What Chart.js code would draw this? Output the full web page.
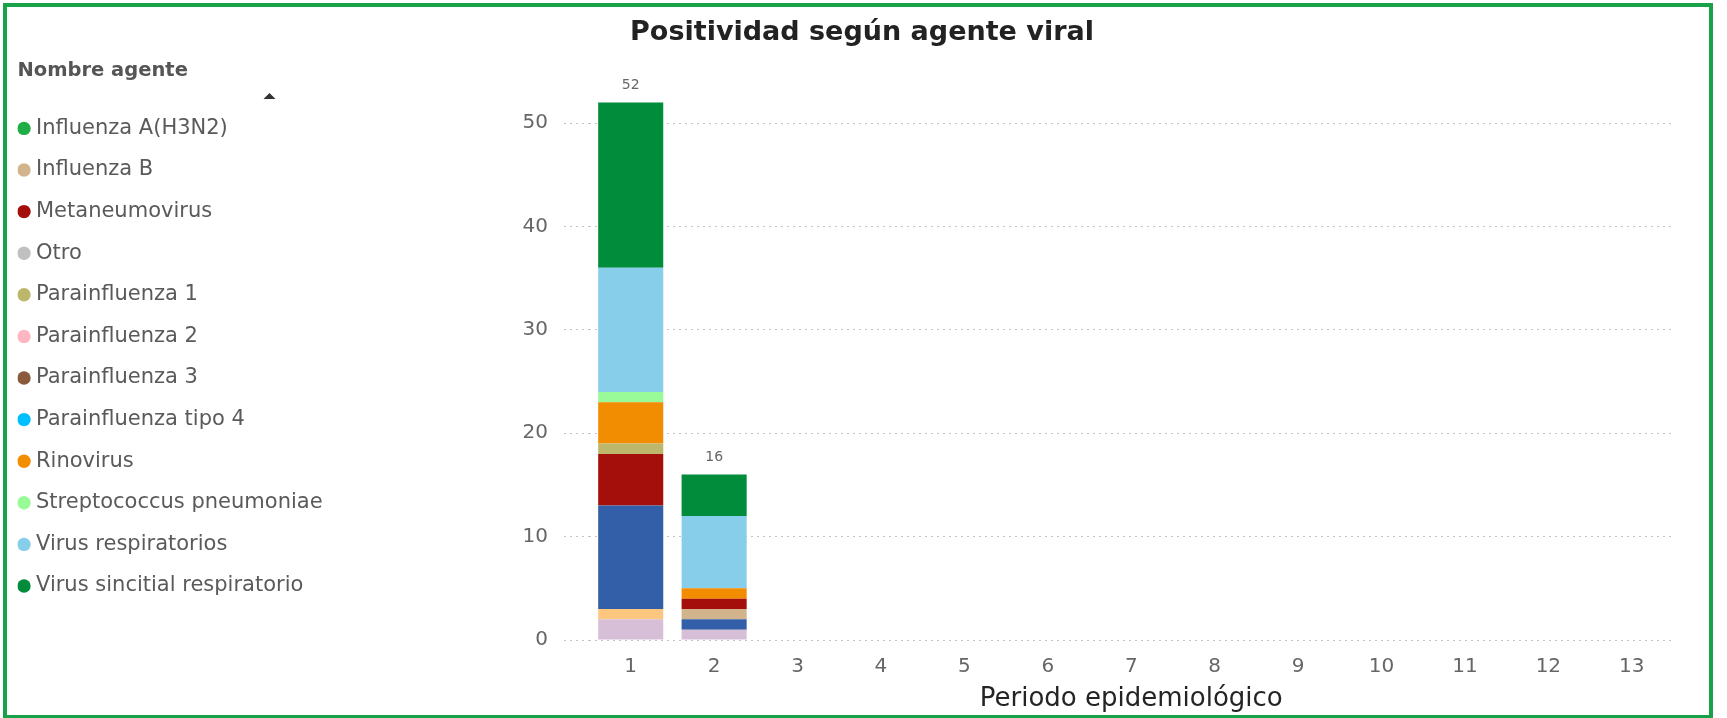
<!DOCTYPE html>
<html>
<head>
<meta charset="utf-8">
<script src="https://cdn.jsdelivr.net/npm/chart.js@4/dist/chart.umd.min.js"></script>
<style>
  body { margin: 0; background: #fff; }
  .wrap { position: relative; width: 1727px; height: 718px; overflow: hidden; }
  .frame { position: absolute; left: 3px; top: 3px; width: 1702px; height: 708px; border: 4px solid #17a24a; pointer-events: none; }
</style>
</head>
<body>
<div class="wrap">
  <canvas id="chart" width="1727" height="718"></canvas>
  <div class="frame"></div>
</div>
<script>
const periodos = ['1', '2', '3', '4', '5', '6', '7', '8', '9', '10', '11', '12', '13'];

// casos por periodo (solo hay datos en los periodos 1 y 2)
const adenovirus = [2, 1];
const bocavirus = [1, 0];
const influenzaH1N1 = [10, 1];
const influenzaH3N2 = [0, 0];
const influenzaB = [0, 1];
const metaneumovirus = [5, 1];
const otro = [0, 0];
const parainfluenza1 = [1, 0];
const parainfluenza2 = [0, 0];
const parainfluenza3 = [0, 0];
const parainfluenza4 = [0, 0];
const rinovirus = [4, 1];
const streptococcus = [1, 0];
const virusRespiratorios = [12, 7];
const vsr = [16, 4];

const series = [
  ['Adenovirus', adenovirus, '#d8bfd8'],
  ['Bocavirus', bocavirus, '#fec77f'],
  ['Influenza A(H1N1)pdm09', influenzaH1N1, '#325fa8'],
  ['Influenza A(H3N2)', influenzaH3N2, '#1fad45'],
  ['Influenza B', influenzaB, '#d2b48c'],
  ['Metaneumovirus', metaneumovirus, '#a50f0b'],
  ['Otro', otro, '#c0c0c0'],
  ['Parainfluenza 1', parainfluenza1, '#bdb76b'],
  ['Parainfluenza 2', parainfluenza2, '#ffb6c1'],
  ['Parainfluenza 3', parainfluenza3, '#8b5a3c'],
  ['Parainfluenza tipo 4', parainfluenza4, '#00bfff'],
  ['Rinovirus', rinovirus, '#f28c00'],
  ['Streptococcus pneumoniae', streptococcus, '#98fb98'],
  ['Virus respiratorios', virusRespiratorios, '#87ceeb'],
  ['Virus sincitial respiratorio', vsr, '#008c3a']
];

// the legend in the report is scrolled, first rows are out of view
const hiddenRows = 3;

const FONT = 'DejaVu Sans';

const totalLabels = {
  id: 'totalLabels',
  afterDatasetsDraw(chart) {
    const { ctx, scales: { x, y } } = chart;
    ctx.save();
    ctx.font = `14px "${FONT}"`;
    ctx.fillStyle = '#666';
    ctx.textAlign = 'center';
    ctx.textBaseline = 'middle';
    periodos.forEach((p, i) => {
      let total = 0;
      chart.data.datasets.forEach(ds => { total += ds.data[i] || 0; });
      if (total > 0) {
        ctx.fillText(total, x.getPixelForValue(i), y.getPixelForValue(total) - 17);
      }
    });
    ctx.restore();
  },
  afterDraw(chart) {
    // small scroll arrow of the legend
    const { ctx, legend } = chart;
    const cx = legend.left + 252, cy = 96;
    ctx.save();
    ctx.fillStyle = '#333';
    ctx.beginPath();
    ctx.moveTo(cx - 6, cy + 3);
    ctx.lineTo(cx + 6, cy + 3);
    ctx.lineTo(cx, cy - 3);
    ctx.closePath();
    ctx.fill();
    ctx.restore();
  }
};

new Chart(document.getElementById('chart'), {
  type: 'bar',
  data: {
    labels: periodos,
    datasets: series.map(([name, values, color]) => ({
      label: name,
      data: values,
      backgroundColor: color,
      borderWidth: 0,
      categoryPercentage: 1,
      barPercentage: 0.78
    }))
  },
  options: {
    responsive: false,
    animation: false,
    layout: { padding: { left: 17.5, right: 20.5, top: 0, bottom: 0 } },
    plugins: {
      title: {
        display: true,
        text: 'Positividad según agente viral',
        color: '#222',
        font: { family: FONT, size: 27, weight: 'bold' },
        padding: { top: 17, bottom: 22 }
      },
      legend: {
        position: 'left',
        align: 'start',
        maxWidth: 420,
        title: {
          display: true,
          position: 'start',
          text: 'Nombre agente',
          color: '#555',
          font: { family: FONT, size: 19.5, weight: 'bold' },
          padding: { top: 61.5, bottom: 28 }
        },
        labels: {
          usePointStyle: true,
          pointStyle: 'circle',
          boxWidth: 3,
          boxHeight: 9.5,
          padding: 5,
          color: '#5a5a5a',
          font: { family: FONT, size: 21, lineHeight: '36.6px' },
          generateLabels(chart) {
            return Chart.defaults.plugins.legend.labels.generateLabels(chart)
              .filter(l => l.datasetIndex >= hiddenRows)
              .map(l => ({ ...l, text: [l.text] }));
          }
        },
        onClick: () => {}
      },
      tooltip: { enabled: false }
    },
    scales: {
      x: {
        stacked: true,
        grid: { display: false, drawTicks: false },
        border: { display: false },
        ticks: { color: '#666', font: { family: FONT, size: 20 }, padding: 15 },
        title: {
          display: true,
          text: 'Periodo epidemiológico',
          color: '#252423',
          font: { family: FONT, size: 26 },
          padding: { top: 0, bottom: 3 }
        },
        afterFit(a) { a.height = 78; }
      },
      y: {
        stacked: true,
        min: 0,
        max: 55,
        afterBuildTicks(a) { a.ticks = a.ticks.filter(t => t.value % 10 === 0); },
        grid: {
          color: '#c4c4c4',
          tickColor: '#c4c4c4',
          tickLength: 25,
          tickBorderDash: [2, 4]
        },
        border: { display: false, dash: [2, 4] },
        ticks: { color: '#666', font: { family: FONT, size: 20 }, padding: 16 },
        afterFit(a) { a.width = 589 - 17.5 - a.chart.legend.width; }
      },
      yRight: {
        position: 'right',
        display: true,
        grid: { display: false },
        border: { display: false },
        ticks: { display: false },
        afterFit(a) { a.width = 33; }
      }
    }
  },
  plugins: [totalLabels]
});
</script>
</body>
</html>
